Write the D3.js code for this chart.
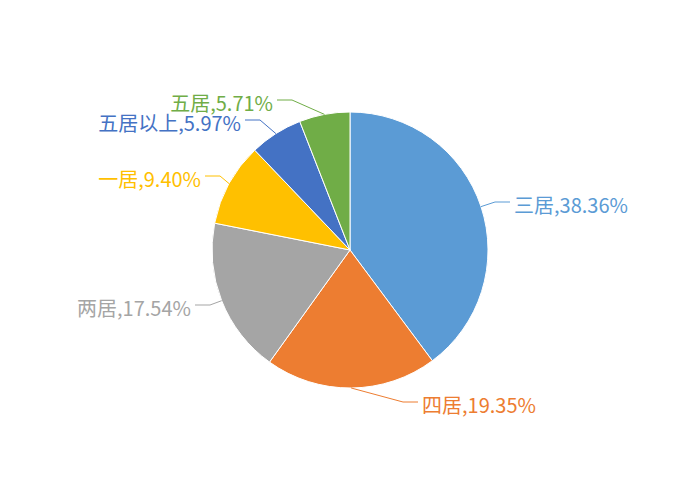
<!DOCTYPE html>
<html>
<head>
<meta charset="utf-8">
<script src="https://cdn.jsdelivr.net/npm/d3@7"></script>
<style>
  body { margin: 0; background: #fff; }
  svg { display: block; }
</style>
</head>
<body>
<div id="chart"></div>
<script>
// data
const categories = ["三居", "四居", "两居", "一居", "五居以上", "五居"];
const shares = [38.36, 19.35, 17.54, 9.40, 5.97, 5.71];
const colors = ["#5b9bd5", "#ed7d31", "#a5a5a5", "#ffc000", "#4472c4", "#70ad47"];

// label layout: elbow x of the leader line and y of the horizontal part
const labelElbowX = [495, 403, 210, 220, 260, 292];
const labelLineY = [202, 402, 305, 176, 120, 100];

const width = 700, height = 500;
const cx = 350, cy = 250, radius = 138;

const svg = d3.select("#chart").append("svg")
    .attr("width", width)
    .attr("height", height);

const g = svg.append("g")
    .attr("transform", "translate(" + cx + "," + cy + ")");

const pie = d3.pie().sort(null).value(d => d);
const arcs = pie(shares);

const arc = d3.arc().innerRadius(0).outerRadius(radius);

g.selectAll("path.slice")
    .data(arcs)
    .enter().append("path")
    .attr("class", "slice")
    .attr("d", arc)
    .attr("fill", (d, i) => colors[i])
    .attr("stroke", "#fff")
    .attr("stroke-width", 1);

// leader lines + labels
const segLen = 15, gap = 4;

arcs.forEach((d, i) => {
    const mid = (d.startAngle + d.endAngle) / 2;
    const ex = cx + radius * Math.sin(mid);
    const ey = cy - radius * Math.cos(mid);
    const right = mid < Math.PI;
    const bx = labelElbowX[i];
    const by = labelLineY[i];
    const hx = right ? bx + segLen : bx - segLen;

    svg.append("polyline")
        .attr("points", [[ex, ey], [bx, by], [hx, by]].map(p => p.join(",")).join(" "))
        .attr("fill", "none")
        .attr("stroke", colors[i])
        .attr("stroke-width", 1);

    svg.append("text")
        .attr("x", right ? hx + gap : hx - gap)
        .attr("y", by + 2)
        .attr("text-anchor", right ? "start" : "end")
        .attr("dominant-baseline", "central")
        .attr("font-family", "'Noto Sans CJK SC', 'Noto Sans', sans-serif")
        .attr("font-size", 20)
        .attr("fill", colors[i])
        .text(categories[i] + "," + shares[i].toFixed(2) + "%");
});
</script>
</body>
</html>
